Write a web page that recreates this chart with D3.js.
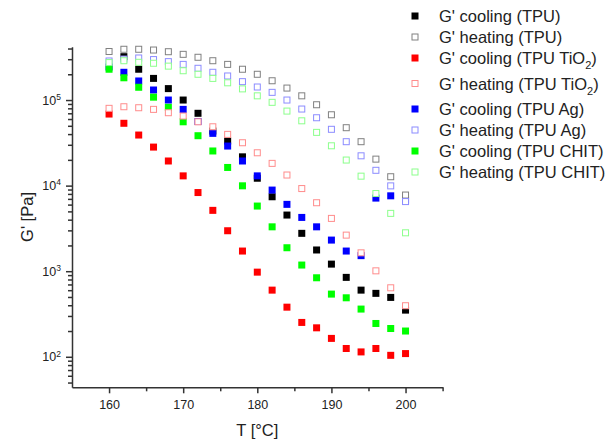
<!DOCTYPE html>
<html>
<head>
<meta charset="utf-8">
<script src="https://cdn.jsdelivr.net/npm/d3@7"></script>
<style>
  body { margin: 0; background: #fff; }
  svg { font-family: "Liberation Sans", Arial, sans-serif; }
</style>
</head>
<body>
<div id="chart"></div>
<script>
// Temperatures (x) and G' values (Pa) per series
const temps = [160, 162, 164, 166, 168, 170, 172, 174, 176, 178, 180, 182, 184, 186, 188, 190, 192, 194, 196, 198, 200];

const coolTPU  = [null, 321000, 229000, 179000, 136000, 100000, 70000, 43400, 33200, 21700, 12200, 7410, 4530, 2770, 1770, 1210, 847, 601, 551, 494, 351];
const heatTPU  = [369000, 392000, 392000, 384000, 367000, 342000, 316000, 288000, 261000, 229000, 200000, 168000, 138000, 112000, 88100, 67300, 47500, 32600, 20400, 12700, 7760];
const coolTiO2 = [68600, 53500, 39000, 28200, 19400, 13000, 8300, 5140, 2970, 1720, 975, 601, 380, 252, 218, 164, 125, 114, 125, 104, 109];
const heatTiO2 = [80000, 83500, 81300, 77800, 71100, 65000, 55700, 48700, 39700, 31700, 24200, 18200, 13300, 9240, 6310, 4140, 2640, 1640, 1010, 640, 395];
const coolAg   = [243000, 211000, 167000, 131000, 100000, 77800, 56100, 40800, 29000, 19400, 13000, 8870, 6040, 4250, 3300, 2310, 1720, 1520, 7150, 7600, 6780];
const heatAg   = [286000, 301000, 310000, 297000, 281000, 261000, 235000, 211000, 191000, 164000, 142000, 123000, 100000, 78500, 62100, 45500, 32600, 22300, 15100, 9930, 6510];
const coolCHIT = [229000, 182000, 141000, 108000, 82200, 55700, 38300, 25400, 16300, 9950, 5770, 3300, 1880, 1180, 838, 540, 489, 361, 245, 214, 200];
const heatCHIT = [274000, 288000, 276000, 269000, 249000, 220000, 200000, 179000, 159000, 135000, 112000, 94000, 74300, 57200, 41900, 29200, 19900, 12900, 8080, 4740, 2810];

const xTicks = [160, 170, 180, 190, 200];
const xMinorTicks = [165, 175, 185, 195, 205];
const yTicks = [1e2, 1e3, 1e4, 1e5];

// series in legend order
const series = [
  { label: "G' cooling (TPU)",       values: coolTPU,  color: "#000000", filled: true },
  { label: "G' heating (TPU)",       values: heatTPU,  color: "#808080", filled: false },
  { label: "G' cooling (TPU TiO2)",  values: coolTiO2, color: "#ff0000", filled: true },
  { label: "G' heating (TPU TiO2)",  values: heatTiO2, color: "#ff8c8c", filled: false },
  { label: "G' cooling (TPU Ag)",    values: coolAg,   color: "#0000ff", filled: true },
  { label: "G' heating (TPU Ag)",    values: heatAg,   color: "#8c8cff", filled: false },
  { label: "G' cooling (TPU CHIT)",  values: coolCHIT, color: "#00ff00", filled: true },
  { label: "G' heating (TPU CHIT)",  values: heatCHIT, color: "#8cff8c", filled: false }
];

const width = 611;
const height = 447;
const plot = { left: 72, right: 442.6, top: 46.7, bottom: 387.3 };

const svg = d3.select("#chart")
  .append("svg")
  .attr("width", width)
  .attr("height", height);

const x = d3.scaleLinear().domain([155, 205]).range([plot.left, plot.right]);
const y = d3.scaleLog().domain([44, 4.2e5]).range([plot.bottom, plot.top]);

// minor y ticks: 2..9 times each decade inside the domain
const yMinorTicks = [];
[10, 100, 1000, 10000, 100000].forEach(d => {
  for (let k = 2; k <= 9; k++) {
    const v = d * k;
    if (v >= y.domain()[0] && v <= y.domain()[1]) yMinorTicks.push(v);
  }
});

const axisColor = "#333";

// x axis
svg.append("g")
  .attr("transform", `translate(0,${plot.bottom})`)
  .call(d3.axisBottom(x).tickValues(xMinorTicks).tickSize(4).tickFormat("").tickSizeOuter(0))
  .call(g => g.select(".domain").remove());

svg.append("g")
  .attr("transform", `translate(0,${plot.bottom})`)
  .call(d3.axisBottom(x).tickValues(xTicks).tickSize(6).tickPadding(7).tickSizeOuter(0))
  .attr("font-size", 12.5)
  .attr("font-family", null);

// y axis
svg.append("g")
  .attr("transform", `translate(${plot.left},0)`)
  .call(d3.axisLeft(y).tickValues(yMinorTicks).tickSize(4).tickFormat("").tickSizeOuter(0))
  .call(g => g.select(".domain").remove());

svg.append("g")
  .attr("transform", `translate(${plot.left},0)`)
  .call(d3.axisLeft(y).tickValues(yTicks).tickSize(6).tickPadding(5).tickSizeOuter(0).tickFormat(""))
  .attr("font-size", 12.5)
  .attr("font-family", null)
  .call(g => g.selectAll(".tick text").each(function(d) {
    const t = d3.select(this);
    t.append("tspan").text("10");
    t.append("tspan").attr("dy", "-0.55em").attr("font-size", 8.5).text(Math.round(Math.log10(d)));
  }));

svg.selectAll(".domain, .tick line")
  .attr("stroke", axisColor)
  .attr("stroke-width", 1.5);
svg.selectAll(".tick text").attr("fill", "#222");

// axis titles
svg.append("text")
  .attr("x", x(180))
  .attr("y", 436)
  .attr("text-anchor", "middle")
  .attr("font-size", 16.5)
  .attr("fill", "#222")
  .text("T [°C]");

svg.append("text")
  .attr("transform", `translate(33,${(plot.top + plot.bottom) / 2}) rotate(-90)`)
  .attr("text-anchor", "middle")
  .attr("font-size", 16.5)
  .attr("fill", "#222")
  .text("G' [Pa]");

// points: filled series first, open squares (white inside) on top
const size = 7;
const ordered = series.filter(s => s.filled).concat(series.filter(s => !s.filled));
ordered.forEach(s => {
  const pts = temps.map((t, i) => [t, s.values[i]]).filter(d => d[1] != null);
  svg.append("g")
    .selectAll("rect")
    .data(pts)
    .enter()
      .append("rect")
      .attr("x", d => x(d[0]) - size / 2)
      .attr("y", d => y(d[1]) - size / 2)
      .attr("width", s.filled ? size : size - 1)
      .attr("height", s.filled ? size : size - 1)
      .attr("transform", s.filled ? null : "translate(0.5,0.5)")
      .attr("fill", s.filled ? s.color : "#fff")
      .attr("stroke", s.filled ? "none" : s.color)
      .attr("stroke-width", 1);
});

// legend
const legend = svg.append("g");
let ly = 16;
series.forEach(s => {
  const g = legend.append("g").attr("transform", `translate(0,${ly})`);
  g.append("rect")
    .attr("x", 415 - size / 2 + (s.filled ? 0 : 0.5))
    .attr("y", -size / 2 + (s.filled ? 0 : 0.5))
    .attr("width", s.filled ? size : size - 1)
    .attr("height", s.filled ? size : size - 1)
    .attr("fill", s.filled ? s.color : "#fff")
    .attr("stroke", s.filled ? "none" : s.color);
  const t = g.append("text")
    .attr("x", 439)
    .attr("y", 6)
    .attr("font-size", 16.5)
    .attr("fill", "#222");
  if (s.label.includes("TiO2")) {
    t.append("tspan").text(s.label.replace("TiO2)", "TiO"));
    t.append("tspan").attr("dy", 5).attr("font-size", 11).text("2");
    t.append("tspan").attr("dy", -5).text(")");
    ly += 25.5;
  } else {
    t.text(s.label);
    ly += 21;
  }
});
</script>
</body>
</html>
